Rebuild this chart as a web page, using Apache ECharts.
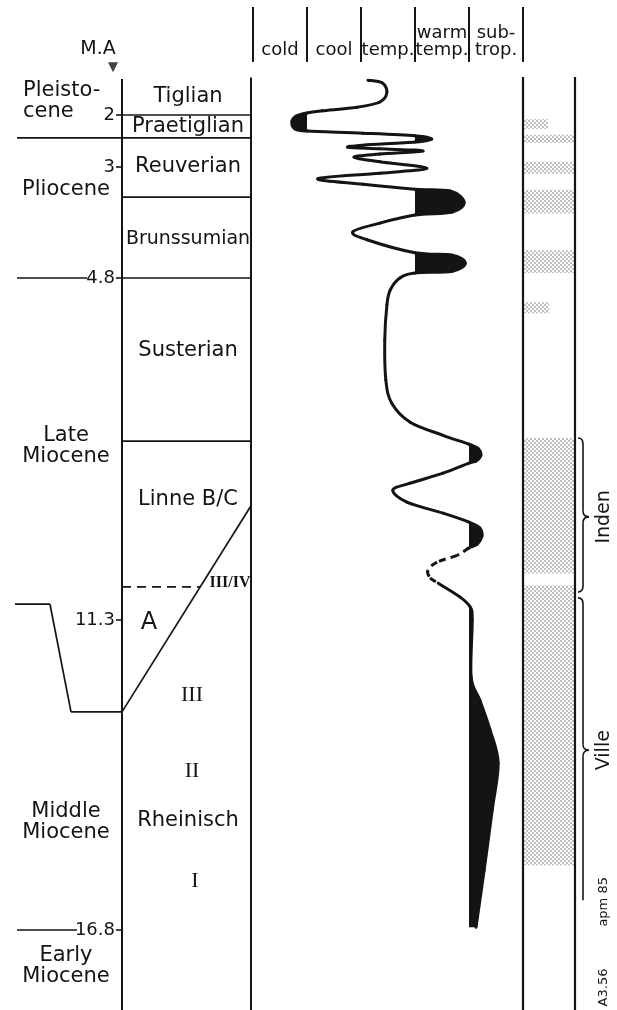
<!DOCTYPE html>
<html><head><meta charset="utf-8">
<script src="https://cdn.jsdelivr.net/npm/echarts@6/dist/echarts.min.js"></script>
<style>html,body{margin:0;padding:0;background:#fff}#c{width:617px;height:1010px}</style>
</head><body><div id="c"></div>
<script>
// ================= DATA =================
const climateZones = ['cold', 'cool', 'temp.', 'warm\ntemp.', 'sub-\ntrop.'];

// Ma tick marks of the age scale
const maTicks = [2, 3, 4.8, 11.3, 16.8];
const maTickLabels = ['2', '3', '4.8', '11.3', '16.8'];
// the figure's age scale is not linear: age anchors and their position on the drawing scale
const scaleAge = [0, 2, 3, 4.8, 11.3, 16.8, 19];
const scalePos = [11, 115, 167, 278, 620, 930, 1054];

const epochNames = ['Pleisto-\ncene', 'Pliocene', 'Late\nMiocene', 'Middle\nMiocene', 'Early\nMiocene'];
const epochLabelAge = [1.74, 3.36, 7.99, 14.88, 17.44];
const epochBoundaryAge = [2.44, 4.8, 16.8];

const stageNames = ['Tiglian', 'Praetiglian', 'Reuverian', 'Brunssumian', 'Susterian', 'Linne B/C', 'Rheinisch'];
const stageLabelAge = [1.65, 2.23, 3.0, 4.17, 6.17, 9.02, 14.85];
const stageBoundaryAge = [2.0, 2.44, 3.49, 4.8, 7.9];

const unitNames = ['III/IV', 'A', 'III', 'II', 'I'];
const unitLabelAge = [10.59, 11.35, 12.63, 13.99, 15.93];
const unitIIIIVAge = 10.67;

// step / facies line (left panel position, age)
const faciesX = [15, 50, 71, 122, 251];
const faciesAge = [11.0, 11.0, 12.93, 12.93, 9.13];

// climate curve: climate zone (0 = cold ... 5 = end of sub-trop.) versus age (Ma)
const climZone = [2.13, 2.39, 2.48, 2.35, 1.93, 1.28, 1.00, 0.80, 0.72, 0.78,
  1.00, 2.04, 3.00, 3.31, 3.00, 2.04, 1.76, 2.35, 3.15, 2.35,
  1.87, 2.35, 3.22, 2.35, 1.20, 2.04, 3.00, 3.65, 3.91, 3.69,
  3.00, 2.35, 1.85, 2.11, 3.00, 3.69, 3.93, 3.69, 3.00, 2.72,
  2.54, 2.48, 2.44, 2.46, 2.57, 2.91, 3.52, 4.00, 4.17, 4.22,
  4.13, 4.00, 3.52, 2.91, 2.59, 2.85, 3.52, 4.00, 4.20, 4.24,
  4.15, 4.00, 3.78, 3.41, 3.24, 3.28, 3.43, 3.83, 4.02, 4.06,
  4.04, 4.20, 4.39, 4.54, 4.43, 4.28, 4.13];
const climAge = [1.33, 1.38, 1.56, 1.75, 1.85, 1.92, 1.96, 2.02, 2.13, 2.27,
  2.31, 2.35, 2.40, 2.46, 2.52, 2.58, 2.62, 2.65, 2.69, 2.75,
  2.81, 2.90, 3.02, 3.10, 3.19, 3.28, 3.36, 3.39, 3.57, 3.73,
  3.78, 3.91, 4.05, 4.18, 4.39, 4.43, 4.56, 4.69, 4.72, 4.80,
  5.03, 5.31, 5.98, 6.74, 7.18, 7.54, 7.79, 7.96, 8.04, 8.17,
  8.28, 8.32, 8.51, 8.70, 8.83, 9.06, 9.27, 9.44, 9.55, 9.70,
  9.86, 9.93, 10.07, 10.20, 10.35, 10.50, 10.60, 10.86, 11.05, 11.30,
  12.31, 12.72, 13.25, 13.84, 14.67, 15.74, 16.75];
const dashedFrom = 61, dashedTo = 66;           // uncertain part of the curve
const fillFrom  = [6, 12, 26, 34, 47, 57, 68];  // black parts of the curve
const fillTo    = [10, 14, 30, 38, 51, 61, 76];
const fillLevel = [1, 3, 3, 3, 4, 4, 4];

// lignite (stippled) intervals
const lignTop    = [2.08, 2.38, 2.90, 3.37, 4.35, 5.26, 7.84, 10.64];
const lignBottom = [2.27, 2.54, 3.11, 3.75, 4.72, 5.47, 10.41, 15.65];
const lignExtent = [0.48, 1, 1, 1, 1, 0.5, 1, 1];

const formationNames = ['Inden', 'Ville'];
const formationTop = [7.84, 10.88];
const formationMid = [9.34, 13.61];
const formationBottom = [10.77, 16.27];
const formationHookBottom = [true, false];

const noteTexts = ['apm 85', 'A3.56'];
const noteAge = [16.30, 17.82];

// ================= LAYOUT =================
const L = { colL: 122, colR: 251, rcolL: 523, rcolR: 575, epochL: 17,
  epochEnd: [122, 87, 77], colTop: 1.31, colBot: 18.3, bracketX: 583, noteX: 604,
  epochX: [23, 66, 66, 66, 66], stageX: 188, unitX: [230, 149, 192, 192, 195] };
const INK = '#141414';
const SANS = 'DejaVu Sans';
const SERIF = 'Liberation Serif';

function depth(age) {
  const n = scaleAge.length;
  let i = 0;
  while (i < n - 2 && age > scaleAge[i + 1]) i++;
  const t = (age - scaleAge[i]) / (scaleAge[i + 1] - scaleAge[i]);
  return scalePos[i] + t * (scalePos[i + 1] - scalePos[i]);
}

// ---------- straight rules ----------
const segs = []; // [x1, age1, x2, age2, width, dash]
segs.push([L.colL, L.colTop, L.colL, L.colBot, 2]);
segs.push([L.colR, 1.28, L.colR, L.colBot, 2]);
segs.push([L.rcolL, 1.27, L.rcolL, L.colBot, 2.2]);
segs.push([L.rcolR, 1.27, L.rcolR, L.colBot, 2.2]);
stageBoundaryAge.forEach(a => segs.push([L.colL, a, L.colR, a, 1.7]));
epochBoundaryAge.forEach((a, i) => segs.push([L.epochL, a, L.epochEnd[i], a, 1.7]));
maTicks.forEach(a => segs.push([L.colL - 6, a, L.colL, a, 1.6]));
for (let i = 0; i < faciesX.length - 1; i++) segs.push([faciesX[i], faciesAge[i], faciesX[i + 1], faciesAge[i + 1], 1.7]);
(function () {
  const d1 = depth(faciesAge[3]), d2 = depth(faciesAge[4]), dd = depth(unitIIIIVAge);
  const t = (d1 - dd) / (d1 - d2);
  segs.push([L.colL, unitIIIIVAge, faciesX[3] + t * (faciesX[4] - faciesX[3]), unitIIIIVAge, 1.6, 1]);
})();

// ---------- text labels ----------
const labels = [];
function addLabel(text, x, age, o) { labels.push(Object.assign({ text, x, age, size: 20, family: SANS, align: 'center', rot: 0, lh: 21, weight: 'normal' }, o || {})); }
addLabel('M.A', 98, 0.73, { size: 19 });
epochNames.forEach((t, i) => addLabel(t, L.epochX[i], epochLabelAge[i], { size: 21, align: i === 0 ? 'left' : 'center', lh: 21 }));
stageNames.forEach((t, i) => addLabel(t, L.stageX, stageLabelAge[i], { size: t === 'Brunssumian' ? 19 : 21 }));
maTicks.forEach((a, i) => addLabel(maTickLabels[i], L.colL - 7, a, { size: 18, align: 'right' }));
unitNames.forEach((t, i) => addLabel(t, L.unitX[i], unitLabelAge[i],
  t === 'A' ? { size: 24 } : (t === 'III/IV' ? { size: 16, family: SERIF, weight: 'bold' } : { size: 22, family: SERIF })));
formationNames.forEach((t, i) => addLabel(t, L.noteX, formationMid[i], { size: 19, rot: Math.PI / 2 }));
noteTexts.forEach((t, i) => addLabel(t, L.noteX, noteAge[i], { size: 13, rot: Math.PI / 2 }));

// ---------- stipple pattern ----------
const pat = document.createElement('canvas');
pat.width = 4; pat.height = 4;
const pc = pat.getContext('2d');
pc.fillStyle = '#707070';
[[1, 1], [3, 3]].forEach(p => { pc.beginPath(); pc.arc(p[0], p[1], 0.8, 0, Math.PI * 2); pc.fill(); });

// ---------- curve geometry helpers (Catmull-Rom through the read points) ----------
function curvePt(api, k) {
  const n = climZone.length;
  k = Math.max(0, Math.min(n - 1, k));
  return api.coord([climZone[k], depth(climAge[k])]);
}
function segBez(api, i) {
  const p0 = curvePt(api, i - 1), p1 = curvePt(api, i), p2 = curvePt(api, i + 1), p3 = curvePt(api, i + 2);
  const t = 1 / 6;
  return [p1, [p1[0] + (p2[0] - p0[0]) * t, p1[1] + (p2[1] - p0[1]) * t],
    [p2[0] - (p3[0] - p1[0]) * t, p2[1] - (p3[1] - p1[1]) * t], p2];
}
function bezAt(b, t) {
  const u = 1 - t;
  return [u * u * u * b[0][0] + 3 * u * u * t * b[1][0] + 3 * u * t * t * b[2][0] + t * t * t * b[3][0],
    u * u * u * b[0][1] + 3 * u * u * t * b[1][1] + 3 * u * t * t * b[2][1] + t * t * t * b[3][1]];
}

const chart = echarts.init(document.getElementById('c'), null, { renderer: 'canvas' });
chart.setOption({
  backgroundColor: '#fff',
  animation: false,
  grid: [
    { left: 0, top: 0, width: 617, height: 1010 },
    { left: L.rcolL - 270, top: 0, width: 270, height: 1010 },
    { left: 253, top: 7, width: 270, height: 55 }
  ],
  xAxis: [
    { gridIndex: 0, type: 'value', min: 0, max: 617, show: false },
    { gridIndex: 1, type: 'value', min: 0, max: 5, show: false },
    { gridIndex: 2, type: 'category', data: climateZones, boundaryGap: true, position: 'bottom',
      axisLine: { show: false }, axisTick: { show: false },
      splitLine: { show: true, interval: 0, lineStyle: { color: INK, width: 2 } },
      axisLabel: { inside: true, interval: 0, margin: 3, color: INK, fontFamily: SANS, fontSize: 18, lineHeight: 17, verticalAlign: 'bottom' } }
  ],
  yAxis: [
    { gridIndex: 0, type: 'value', min: 0, max: 1010, inverse: true, show: false },
    { gridIndex: 1, type: 'value', min: 0, max: 1010, inverse: true, show: false },
    { gridIndex: 2, type: 'value', min: 0, max: 1, show: false }
  ],
  series: [
    { type: 'line', xAxisIndex: 2, yAxisIndex: 2, data: [], silent: true },
    // lignite stipple
    { type: 'custom', xAxisIndex: 0, yAxisIndex: 0, silent: true,
      data: lignTop.map((t, i) => [L.rcolL, depth(t), L.rcolR, depth(lignBottom[i]), lignExtent[i]]),
      renderItem(params, api) {
        const a = api.coord([api.value(0), api.value(1)]);
        const b = api.coord([api.value(2), api.value(3)]);
        const w = (b[0] - a[0] - 2) * api.value(4);
        return { type: 'rect', shape: { x: a[0] + 1, y: a[1], width: w, height: b[1] - a[1] },
          style: { fill: { image: pat, repeat: 'repeat' } } };
      } },
    // straight rules
    { type: 'custom', xAxisIndex: 0, yAxisIndex: 0, silent: true,
      data: segs.map(s => [s[0], depth(s[1]), s[2], depth(s[3])]),
      renderItem(params, api) {
        const s = segs[params.dataIndex];
        const a = api.coord([api.value(0), api.value(1)]);
        const b = api.coord([api.value(2), api.value(3)]);
        return { type: 'line', shape: { x1: a[0], y1: a[1], x2: b[0], y2: b[1] },
          style: { stroke: INK, lineWidth: s[4], lineDash: s[5] ? [9, 6] : null, lineCap: 'butt' } };
      } },
    // M.A arrow
    { type: 'scatter', xAxisIndex: 0, yAxisIndex: 0, silent: true, data: [[113, depth(1.08)]],
      symbol: 'triangle', symbolRotate: 180, symbolSize: [10, 10], itemStyle: { color: INK } },
    // text labels
    { type: 'custom', xAxisIndex: 0, yAxisIndex: 0, silent: true,
      data: labels.map(l => [l.x, depth(l.age)]),
      renderItem(params, api) {
        const l = labels[params.dataIndex];
        const p = api.coord([api.value(0), api.value(1)]);
        return { type: 'text', x: p[0], y: p[1], rotation: l.rot,
          style: { text: l.text, fill: INK, fontSize: l.size, fontFamily: l.family, fontWeight: l.weight,
            align: l.align, verticalAlign: 'middle', lineHeight: l.lh } };
      } },
    // formation brackets
    { type: 'custom', xAxisIndex: 0, yAxisIndex: 0, silent: true,
      data: formationTop.map((t, i) => [L.bracketX, depth(t), depth(formationMid[i]), depth(formationBottom[i])]),
      renderItem(params, api) {
        const i = params.dataIndex;
        const x = api.coord([api.value(0), api.value(1)])[0];
        const yT = api.coord([api.value(0), api.value(1)])[1];
        const yM = api.coord([api.value(0), api.value(2)])[1];
        const yB = api.coord([api.value(0), api.value(3)])[1];
        const h = 6, tw = 6, hw = 5;
        const st = { stroke: INK, lineWidth: 1.6, fill: null };
        const ch = [
          { type: 'bezierCurve', shape: { x1: x - hw, y1: yT, cpx1: x, cpy1: yT, x2: x, y2: yT + h }, style: st },
          { type: 'line', shape: { x1: x, y1: yT + h, x2: x, y2: yM - h }, style: st },
          { type: 'bezierCurve', shape: { x1: x, y1: yM - h, cpx1: x, cpy1: yM, x2: x + tw, y2: yM }, style: st },
          { type: 'bezierCurve', shape: { x1: x + tw, y1: yM, cpx1: x, cpy1: yM, x2: x, y2: yM + h }, style: st }
        ];
        if (formationHookBottom[i]) {
          ch.push({ type: 'line', shape: { x1: x, y1: yM + h, x2: x, y2: yB - h }, style: st });
          ch.push({ type: 'bezierCurve', shape: { x1: x, y1: yB - h, cpx1: x, cpy1: yB, x2: x - hw, y2: yB }, style: st });
        } else {
          ch.push({ type: 'line', shape: { x1: x, y1: yM + h, x2: x, y2: yB }, style: st });
        }
        return { type: 'group', children: ch };
      } },
    // black (warm / cold extreme) parts of the climate curve
    { type: 'custom', xAxisIndex: 1, yAxisIndex: 1, silent: true,
      data: fillFrom.map((f, i) => [fillLevel[i], depth(climAge[f]), depth(climAge[fillTo[i]])]),
      renderItem(params, api) {
        const i = params.dataIndex, a = fillFrom[i], b = fillTo[i], lev = fillLevel[i];
        const pts = [api.coord([lev, api.value(1)])];
        for (let k = a; k < b; k++) {
          const bz = segBez(api, k);
          for (let s = 0; s < 14; s++) pts.push(bezAt(bz, s / 14));
        }
        pts.push(curvePt(api, b));
        pts.push(api.coord([lev, api.value(2)]));
        return { type: 'polygon', shape: { points: pts }, style: { fill: INK } };
      } },
    // climate curve
    { type: 'custom', xAxisIndex: 1, yAxisIndex: 1, silent: true,
      data: climZone.map((z, i) => [z, depth(climAge[i])]),
      renderItem(params, api) {
        const i = params.dataIndex;
        if (i >= climZone.length - 1) return null;
        const b = segBez(api, i);
        const dashed = i >= dashedFrom && i < dashedTo;
        return { type: 'bezierCurve',
          shape: { x1: b[0][0], y1: b[0][1], cpx1: b[1][0], cpy1: b[1][1], cpx2: b[2][0], cpy2: b[2][1], x2: b[3][0], y2: b[3][1] },
          style: { stroke: INK, fill: null, lineWidth: 3, lineCap: dashed ? 'butt' : 'round', lineDash: dashed ? [7, 5] : null } };
      } }
  ]
});
</script></body></html>
